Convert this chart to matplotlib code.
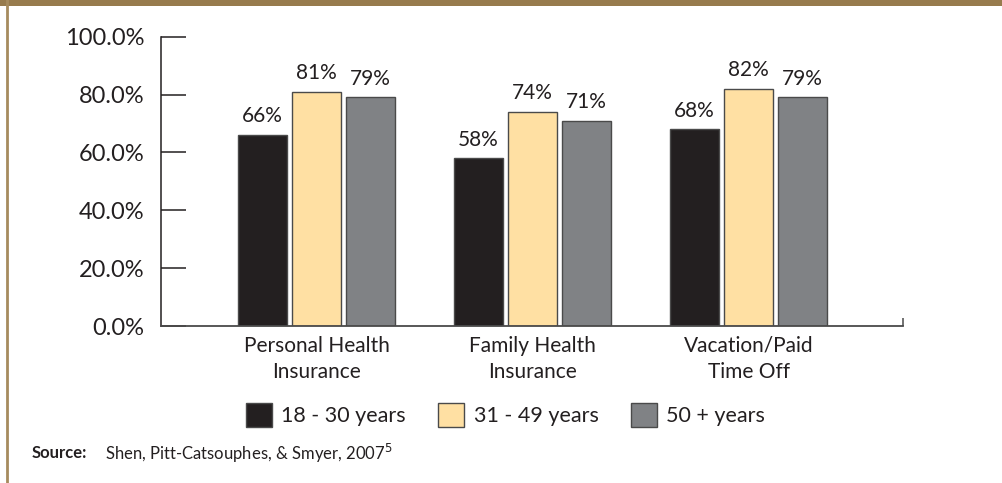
import numpy as np
import matplotlib
matplotlib.use("Agg")
import matplotlib.pyplot as plt
from matplotlib.patches import Patch, Rectangle
from matplotlib.lines import Line2D

plt.rcParams['font.family'] = ['Lato', 'DejaVu Sans']

categories = ['Personal Health\nInsurance', 'Family Health\nInsurance', 'Vacation/Paid\nTime Off']
groups = ['18 - 30 years', '31 - 49 years', '50 + years']
young = [66, 58, 68]
middle = [81, 74, 82]
older = [79, 71, 79]
y_ticks = [0, 20, 40, 60, 80, 100]

colors = ['#231F20', '#FFE0A3', '#808285']
edge = '#4a4a4a'
text_col = '#231F20'

fig = plt.figure(figsize=(10.03, 4.83), dpi=100)
ax = fig.add_axes([0.1605, 0.325, 0.7398, 0.599])

x = np.arange(len(categories))
width = 0.227
step = 0.25
for i, (vals, c) in enumerate(zip([young, middle, older], colors)):
    pos = x + (i - 1) * step
    ax.bar(pos, vals, width, color=c, edgecolor=edge, linewidth=1.0, zorder=2)
    for p, v in zip(pos, vals):
        ax.text(p, v + 3.0, f'{v}%', ha='center', va='bottom', fontsize=15, color=text_col)

ax.set_xlim(-0.72, 2.715)
ax.set_ylim(0, 100)
ax.set_yticks(y_ticks)
ax.set_yticklabels([f'{t:.1f}%' for t in y_ticks], fontsize=17, color=text_col)
ax.tick_params(axis='y', direction='in', length=18, width=1.1, color='#231F20', pad=12)

ax.set_xticks(x)
ax.set_xticklabels(categories, fontsize=15, color=text_col, linespacing=1.4)
ax.tick_params(axis='x', which='major', length=0, pad=7)
ax.set_xticks([2.715], minor=True)
ax.tick_params(axis='x', which='minor', direction='in', length=6, width=1.1, color='#4a4a4a')

for s in ['top', 'right']:
    ax.spines[s].set_visible(False)
ax.spines['left'].set_color('#231F20')
ax.spines['left'].set_linewidth(1.1)
ax.spines['bottom'].set_color('#4a4a4a')
ax.spines['bottom'].set_linewidth(1.3)

handles = [Patch(facecolor=c, edgecolor=edge, linewidth=1.0) for c in colors]
fig.legend(handles, groups, loc='center', bbox_to_anchor=(0.504, 0.141), ncol=3,
           frameon=False, fontsize=15.5, handlelength=1.2, handleheight=1.35,
           handletextpad=0.45, columnspacing=1.5, labelcolor=text_col)

# frame decoration: top band and left rule
fig.patches.append(Rectangle((0, 1 - 6 / 483), 1, 6 / 483, transform=fig.transFigure,
                             facecolor='#977B4D', edgecolor='none'))
fig.lines.append(Line2D([7.5 / 1003, 7.5 / 1003], [0, 1], transform=fig.transFigure,
                        color='#A68B5E', linewidth=2))

fig.text(32 / 1003, 1 - 453 / 483, 'Source:', fontsize=12, fontweight='bold',
         color=text_col, va='center')
fig.text(105 / 1003, 1 - 453 / 483, 'Shen, Pitt-Catsouphes, & Smyer, 2007$^{5}$', fontsize=12,
         color=text_col, va='center')

fig.savefig('out.png', dpi=100)
